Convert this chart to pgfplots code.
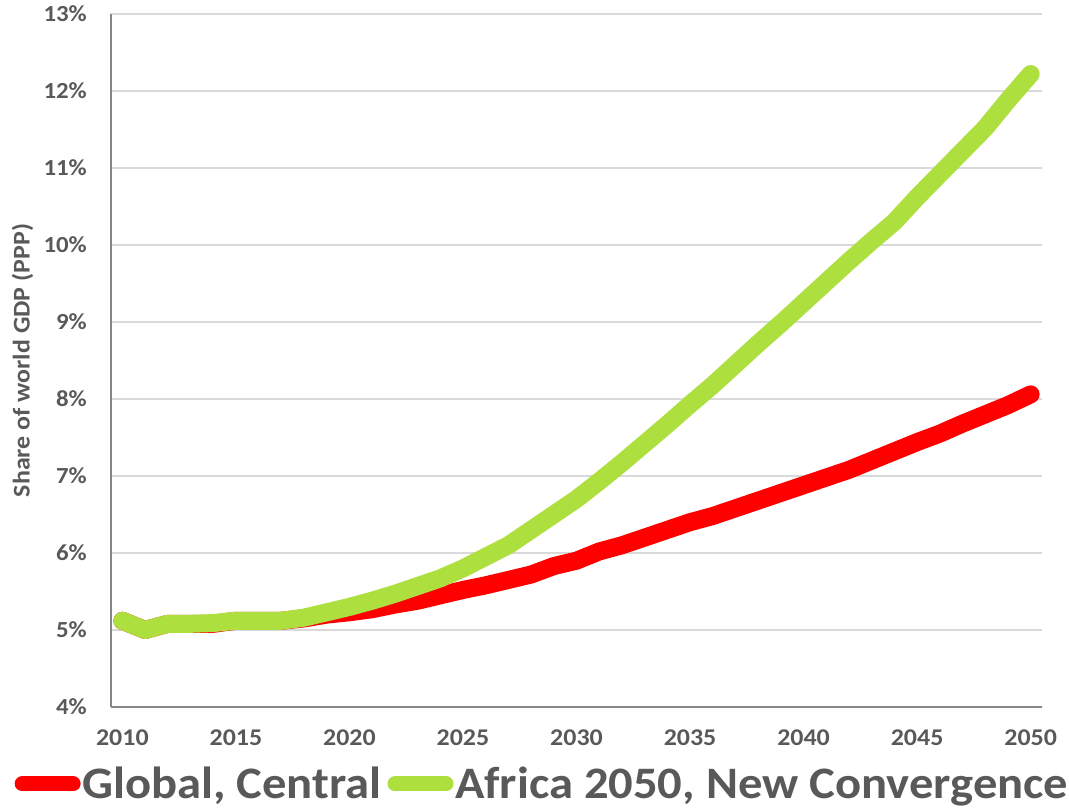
\documentclass[border=0pt]{standalone}
\usepackage{fontspec}
\setmainfont{Carlito}[FakeStretch=1.08]
\usepackage{pgfplots}
\usepackage{pgfplotstable}
\pgfplotsset{compat=1.18}
\definecolor{txtgray}{RGB}{89,89,89}
\definecolor{axgray}{RGB}{134,134,134}
\definecolor{gridgray}{RGB}{217,217,217}
\definecolor{global}{RGB}{255,0,0}
\definecolor{africa}{RGB}{173,223,62}

% Share of world GDP (PPP), per cent
\pgfplotstableread{
year global africa
2010 5.12 5.12
2011 5.00 5.00
2012 5.08 5.08
2013 5.08 5.08
2014 5.08 5.09
2015 5.12 5.12
2016 5.12 5.12
2017 5.12 5.12
2018 5.15 5.16
2019 5.20 5.23
2020 5.23 5.30
2021 5.27 5.38
2022 5.33 5.47
2023 5.38 5.57
2024 5.45 5.67
2025 5.52 5.80
2026 5.58 5.95
2027 5.65 6.10
2028 5.72 6.30
2029 5.83 6.50
2030 5.90 6.70
2031 6.02 6.93
2032 6.10 7.17
2033 6.20 7.42
2034 6.30 7.67
2035 6.40 7.93
2036 6.48 8.18
2037 6.58 8.45
2038 6.68 8.72
2039 6.78 8.98
2040 6.88 9.25
2041 6.98 9.52
2042 7.08 9.79
2043 7.20 10.05
2044 7.32 10.30
2045 7.44 10.62
2046 7.55 10.92
2047 7.68 11.22
2048 7.80 11.52
2049 7.92 11.88
2050 8.06 12.22
}\gdpshare

\begin{document}
\begin{tikzpicture}[x=1pt,y=1pt]
\useasboundingbox (0,0) rectangle (1069,810);
\clip (0,0) rectangle (1069,810);
\begin{axis}[
  at={(111pt,103pt)}, anchor=south west,
  scale only axis, width=931pt, height=693pt,
  xmin=2009.5, xmax=2050.5, ymin=4, ymax=13,
  axis lines*=left,
  axis line style={draw=axgray, line width=2.5pt},
  major tick length=0pt,
  xtick={2010,2015,...,2050},
  xticklabels={2010,2015,2020,2025,2030,2035,2040,2045,2050},
  ytick={4,...,13},
  yticklabels={4\%,5\%,6\%,7\%,8\%,9\%,10\%,11\%,12\%,13\%},
  ymajorgrids,
  major grid style={draw=gridgray, line width=2pt},
  tick label style={text=txtgray, inner sep=0pt},
  xticklabel style={font=\fontsize{24}{24}\selectfont\bfseries, anchor=north, yshift=-23pt},
  yticklabel style={font=\fontsize{23}{23}\selectfont\bfseries, anchor=east, xshift=-24pt},
  ylabel={Share of world GDP (PPP)},
  every axis y label/.style={at={(axis description cs:-0.095,0.50)}, rotate=90, anchor=center,
    font=\fontsize{24}{24}\selectfont\bfseries, text=txtgray},
  legend columns=2,
  legend style={at={(-0.1037,-0.111)}, anchor=west, draw=none, fill=none,
    font=\fontsize{45}{45}\selectfont\bfseries, text=txtgray, inner sep=0pt,
    nodes={inner sep=0pt},
    /tikz/every odd column/.append style={column sep=1.5pt},
    /tikz/every even column/.append style={column sep=6pt}},
  legend image code/.code={\draw[#1, line width=15pt, line cap=round] (0pt,0pt) -- (51pt,0pt);},
]
\addplot[global, line width=18pt, line cap=round, line join=round] table[x=year, y=global] {\gdpshare};
\addlegendentry{Global, Central}
\addplot[africa, line width=18pt, line cap=round, line join=round] table[x=year, y=africa] {\gdpshare};
\addlegendentry{Africa 2050, New Convergence}
\end{axis}
\end{tikzpicture}
\end{document}
